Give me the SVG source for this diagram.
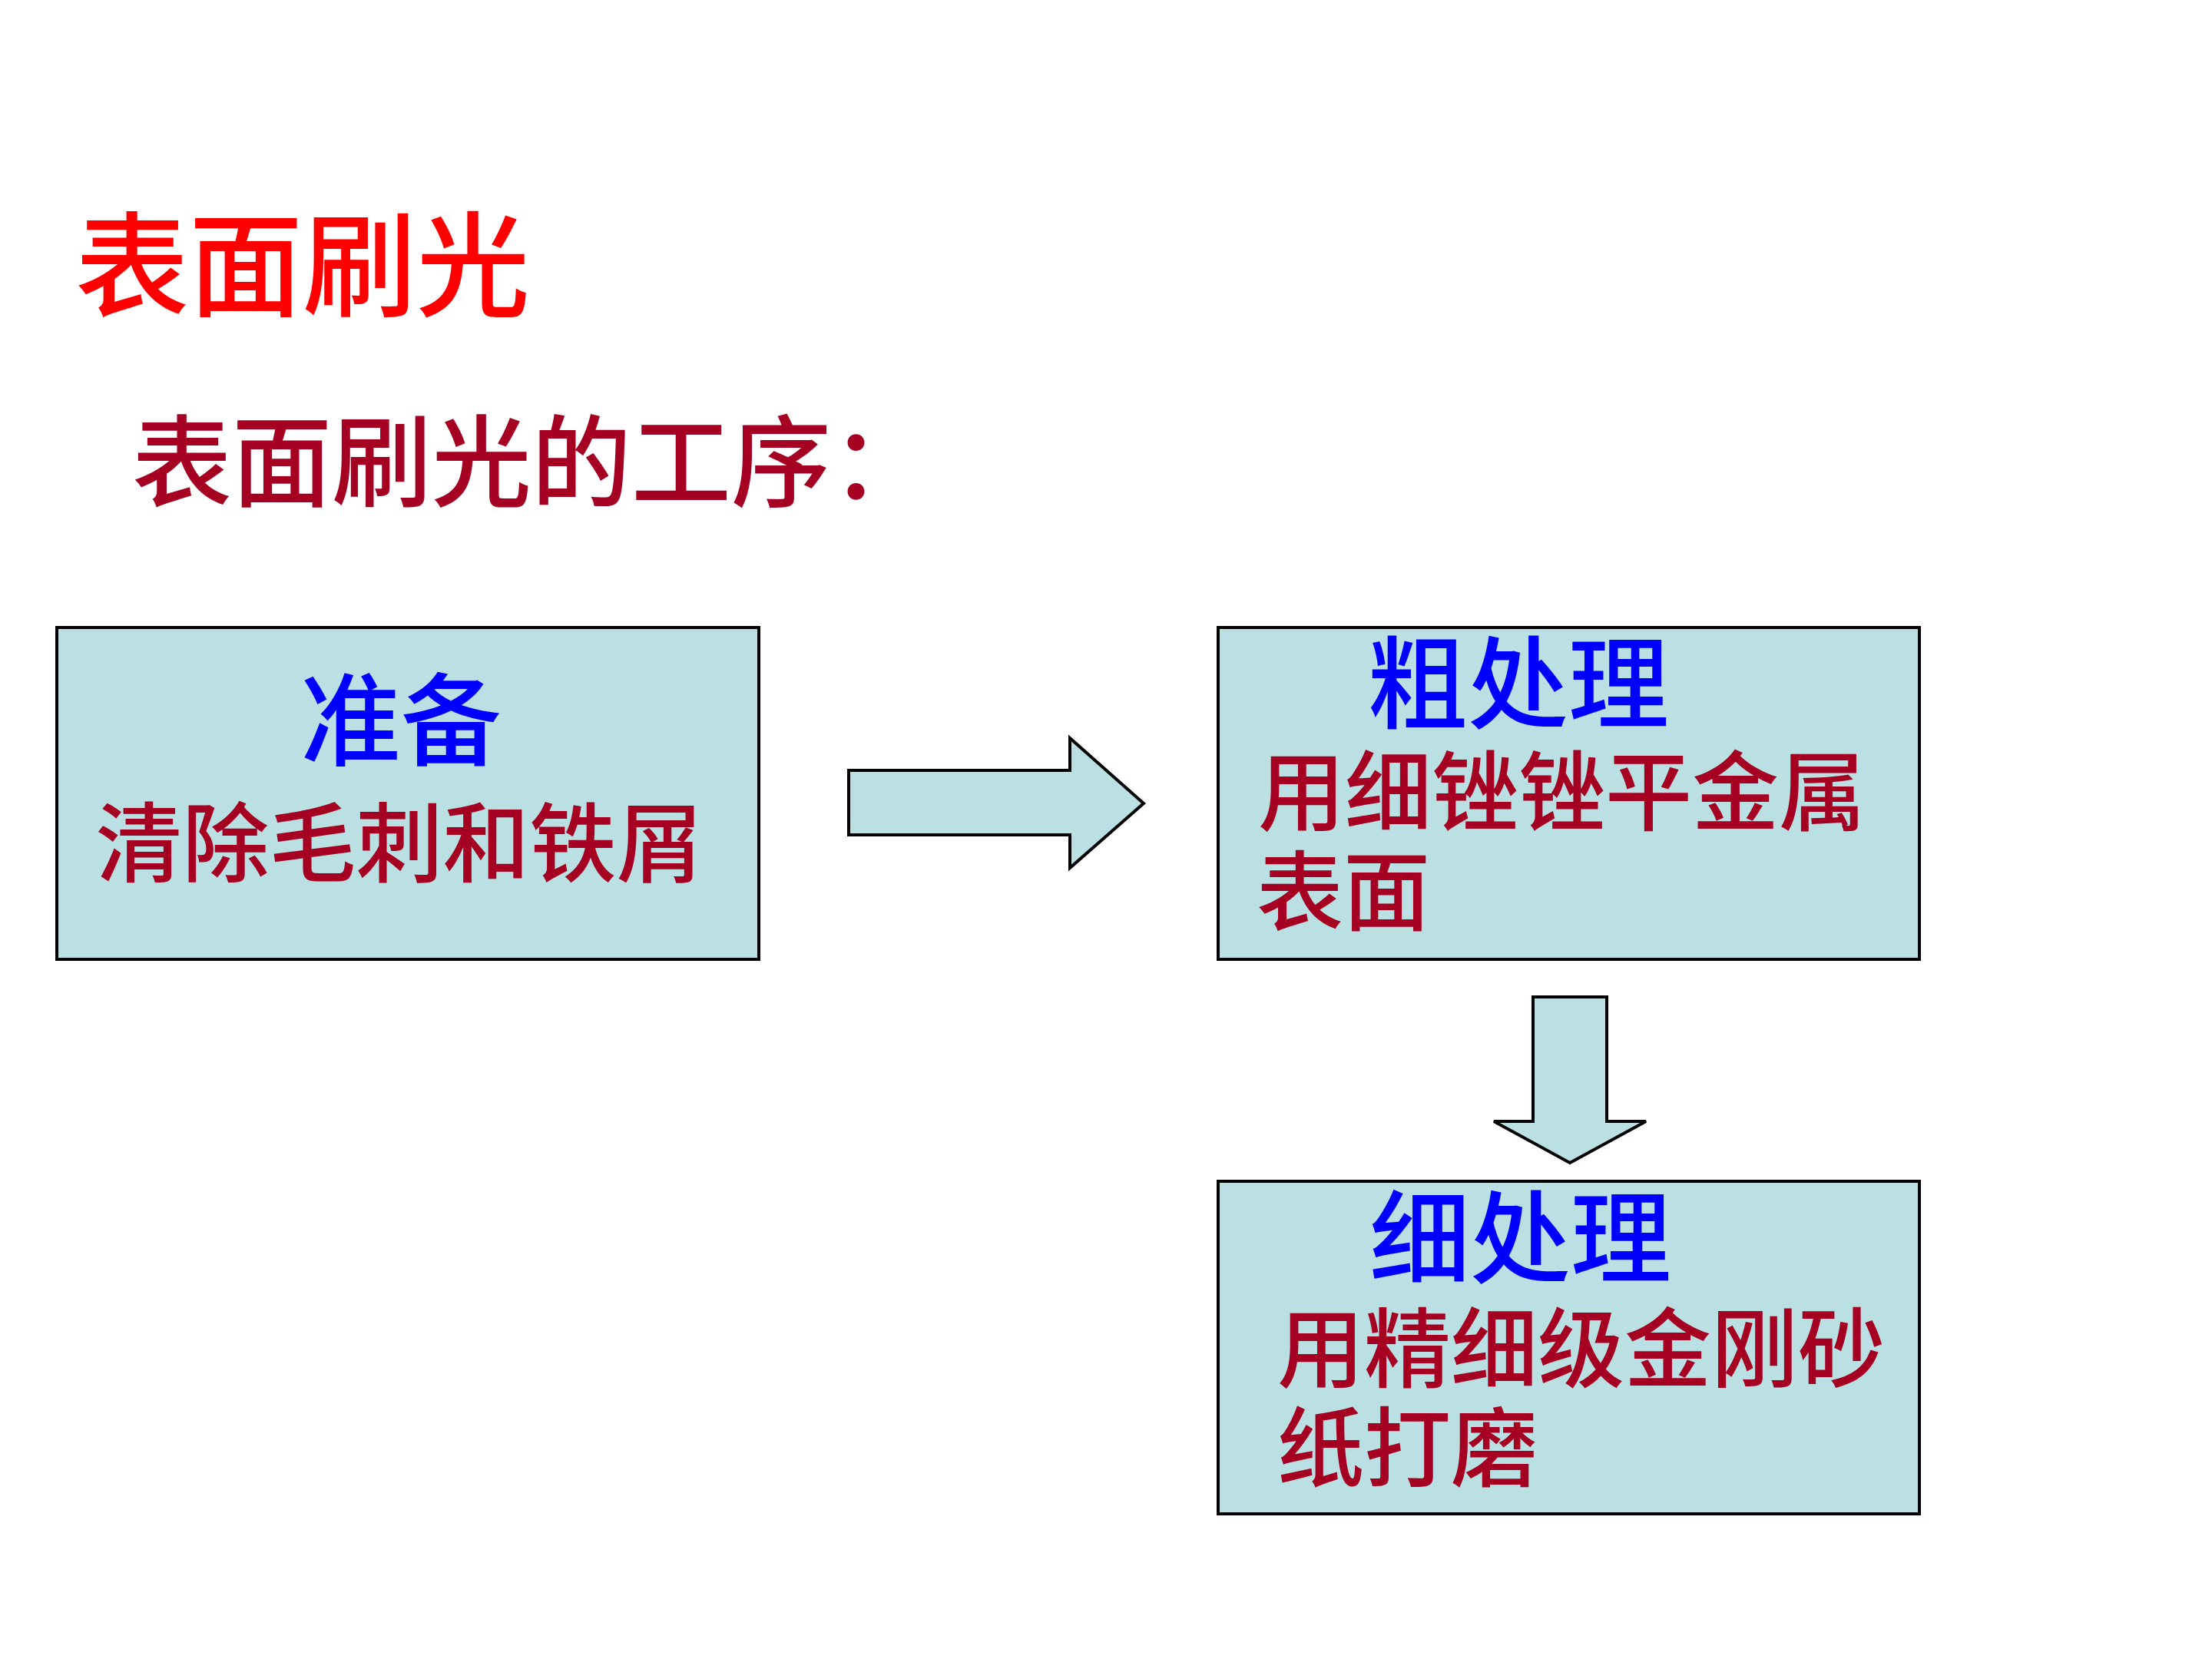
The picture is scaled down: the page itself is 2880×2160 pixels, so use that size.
<svg xmlns="http://www.w3.org/2000/svg" width="2880" height="2160" viewBox="0 0 2880 2160">
<style>
.box{fill:#BBE0E3;stroke:#000;stroke-width:4}
.arr{fill:#BBE0E3;stroke:#000;stroke-width:4;stroke-linejoin:miter}
text{font-family:"Noto Sans CJK SC","Noto Sans CJK TC",sans-serif;font-weight:500}
.title{fill:#FF0000;font-size:148px}
.sub{fill:#A50021;font-size:130px}
.head{fill:#0000FF;font-size:131px}
.body{fill:#A50021;font-size:113px}
</style>
<rect width="2880" height="2160" fill="#FFFFFF"/>
<text class="title" x="98" y="400">表面刷光</text>
<text class="sub" x="172" y="649">表面刷光的工序：</text>
<g id="connectors">
<polygon class="arr" points="1105,1003 1393,1003 1393,961 1489,1046 1393,1130 1393,1087 1105,1087"/>
<polygon class="arr" points="1996,1298 2092,1298 2092,1460 2143,1460 2044,1514 1945,1460 1996,1460"/>
</g>
<g id="node-prepare">
<rect class="box" x="74" y="817" width="914" height="432"/>
<text class="head" x="522" y="986" text-anchor="middle">准备</text>
<text class="body" x="520" y="1139" text-anchor="middle">清除毛刺和铁屑</text>
</g>
<g id="node-rough">
<rect class="box" x="1586" y="817" width="913" height="432"/>
<text class="head" x="1780" y="938">粗处理</text>
<text class="body" x="1638" y="1072">用细锉锉平金属</text>
<text class="body" x="1636" y="1202">表面</text>
</g>
<g id="node-fine">
<rect class="box" x="1586" y="1538" width="913" height="433"/>
<text class="head" x="1783" y="1660">细处理</text>
<text class="body" x="1663" y="1797">用精细级金刚砂</text>
<text class="body" x="1663" y="1926">纸打磨</text>
</g>
</svg>
